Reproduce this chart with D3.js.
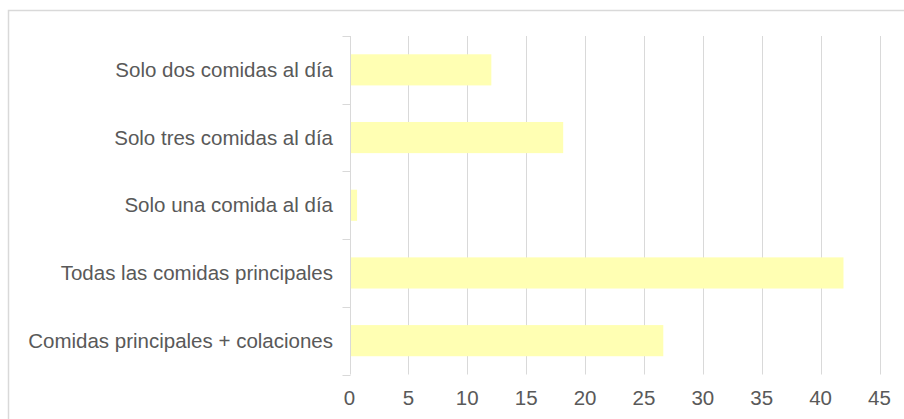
<!DOCTYPE html>
<html>
<head>
<meta charset="utf-8">
<script src="https://cdn.jsdelivr.net/npm/d3@7"></script>
<style>
  body { margin: 0; background: #fff; }
  svg { display: block; }
</style>
</head>
<body>
<script>
// chart data
const categories = [
  'Solo dos comidas al día',
  'Solo tres comidas al día',
  'Solo una comida al día',
  'Todas las comidas principales',
  'Comidas principales + colaciones'
];
const values = [12.0, 18.1, 0.6, 41.9, 26.6];
const xTicks = [0, 5, 10, 15, 20, 25, 30, 35, 40, 45];

const W = 904, H = 419;
const plotLeft = 349.5, plotRight = 879.5, plotTop = 36, plotBottom = 374.5;
const grey = '#d9d9d9';
const textColor = '#595959';
const font = '"Liberation Sans", Arial, sans-serif';

const svg = d3.select('body').append('svg')
  .attr('width', W)
  .attr('height', H);

// outer frame
svg.append('rect')
  .attr('x', 8.5)
  .attr('y', 10.5)
  .attr('width', W)
  .attr('height', H)
  .attr('fill', 'none')
  .attr('stroke', grey)
  .attr('stroke-width', 1.5);

// scales
const x = d3.scaleLinear()
  .domain([0, 45])
  .range([plotLeft, plotRight]);
const y = d3.scaleBand()
  .domain(categories)
  .range([plotTop, plotBottom])
  .paddingInner(0.54)
  .paddingOuter(0.27);

// vertical gridlines
svg.append('g')
  .selectAll('line')
  .data(xTicks)
  .enter().append('line')
  .attr('x1', d => Math.round(x(d)) + 0.5)
  .attr('x2', d => Math.round(x(d)) + 0.5)
  .attr('y1', plotTop)
  .attr('y2', plotBottom)
  .attr('stroke', grey)
  .attr('stroke-width', 1);

// category tick marks on the band boundaries
const bounds = categories.map(c => y(c) - y.step() * y.paddingInner() / 2);
bounds.push(plotBottom);
svg.append('g')
  .selectAll('line')
  .data(bounds)
  .enter().append('line')
  .attr('x1', plotLeft - 7)
  .attr('x2', plotLeft + 1)
  .attr('y1', d => Math.round(d) + 0.5)
  .attr('y2', d => Math.round(d) + 0.5)
  .attr('stroke', grey)
  .attr('stroke-width', 1);

// bars
svg.selectAll('.bar')
  .data(values)
  .enter().append('rect')
  .attr('class', 'bar')
  .attr('x', x(0) + 1.5)
  .attr('y', (d, i) => y(categories[i]))
  .attr('width', d => x(d) - x(0) - 1)
  .attr('height', y.bandwidth())
  .attr('fill', '#ffffb3');

// category labels
svg.append('g')
  .selectAll('text')
  .data(categories)
  .enter().append('text')
  .attr('x', 333)
  .attr('y', d => y(d) + y.bandwidth() / 2)
  .attr('dy', '0.35em')
  .attr('text-anchor', 'end')
  .style('font-family', font)
  .style('font-size', '20.5px')
  .attr('fill', textColor)
  .text(d => d);

// value axis labels
svg.append('g')
  .selectAll('text')
  .data(xTicks)
  .enter().append('text')
  .attr('x', d => x(d))
  .attr('y', 398)
  .attr('dy', '0.35em')
  .attr('text-anchor', 'middle')
  .style('font-family', font)
  .style('font-size', '20.5px')
  .attr('fill', textColor)
  .text(d => d);
</script>
</body>
</html>
